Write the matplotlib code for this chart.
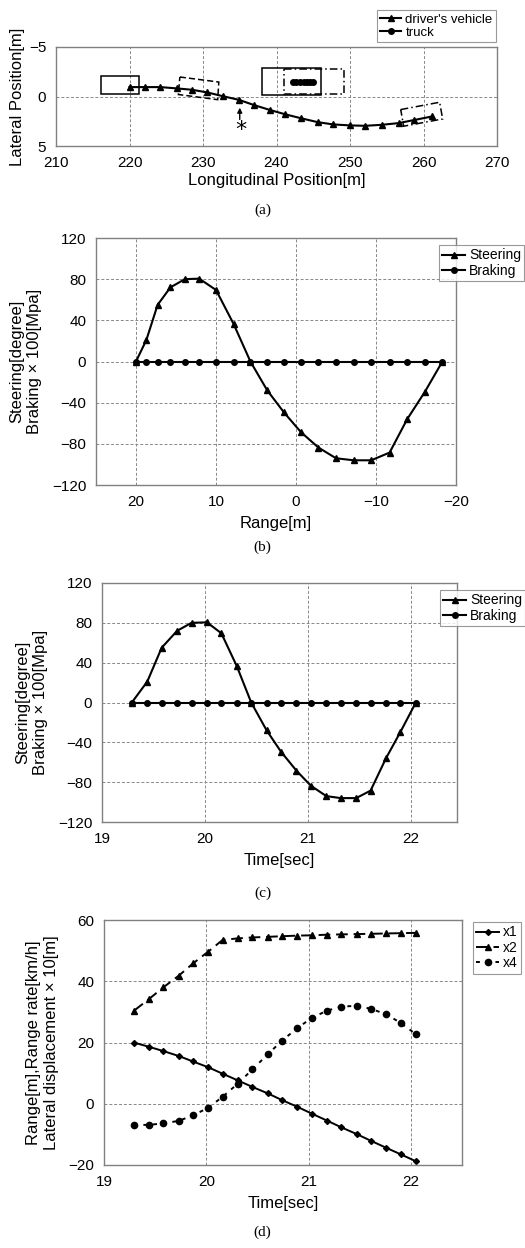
import matplotlib
matplotlib.use("Agg")
import matplotlib.pyplot as plt
from matplotlib.patches import Polygon

plt.rcParams['font.family'] = ['Liberation Sans', 'DejaVu Sans']

# ---------------- data ----------------
# (a) trajectories
veh_x = [220.0, 222.1, 224.2, 226.4, 228.5, 230.6, 232.7, 234.9, 237.0, 239.1,
         241.2, 243.4, 245.6, 247.7, 250.0, 252.1, 254.3, 256.6, 258.7, 261.2]
veh_y = [-0.95, -0.95, -0.95, -0.82, -0.68, -0.41, -0.03, 0.34, 0.88, 1.36,
         1.80, 2.21, 2.59, 2.82, 2.92, 2.96, 2.86, 2.69, 2.38, 2.01]
truck_x = [242.2, 242.7, 243.2, 243.7, 244.2, 244.6, 245.0]
truck_y = [-1.5, -1.5, -1.5, -1.5, -1.5, -1.5, -1.5]
# vehicle outlines (corner points, data units)
box_start = [(216.1, -2.04), (221.3, -2.04), (221.3, -0.24), (216.1, -0.24)]
box_lc1 = [(226.85, -1.97), (232.15, -1.46), (232.0, 0.32), (226.65, -0.2)]
box_truck = [(238.0, -2.89), (246.1, -2.89), (246.1, -0.17), (238.0, -0.17)]
box_truck2 = [(241.0, -2.79), (249.2, -2.79), (249.2, -0.24), (241.0, -0.24)]
box_end = [(256.9, 1.32), (262.2, 0.58), (262.6, 2.27), (257.3, 3.0)]

# (b), (c) steering / braking
range_m = [20.0, 18.7, 17.3, 15.7, 13.9, 12.1, 10.0, 7.8, 5.7, 3.6,
           1.5, -0.6, -2.8, -5.0, -7.2, -9.4, -11.7, -13.9, -16.1, -18.3]
time_s = [19.29, 19.44, 19.58, 19.73, 19.87, 20.02, 20.16, 20.31, 20.45, 20.60,
          20.74, 20.89, 21.03, 21.18, 21.32, 21.47, 21.61, 21.76, 21.90, 22.05]
steering = [0, 21, 55, 72, 80, 80.5, 69.5, 36.5, 0, -28,
            -49.5, -68.5, -83.6, -94, -96, -96, -88.5, -56, -29.6, 0]
braking = [0] * 20

# (d)
x1 = [20.0, 18.6, 17.2, 15.6, 13.8, 11.9, 9.8, 7.6, 5.5, 3.4,
      1.2, -1.0, -3.2, -5.5, -7.7, -9.9, -12.1, -14.4, -16.5, -18.8]
x2 = [30.3, 34.2, 38.0, 41.8, 45.8, 49.7, 53.5, 54.0, 54.3, 54.5,
      54.7, 54.9, 55.0, 55.2, 55.3, 55.4, 55.5, 55.6, 55.7, 55.8]
x4 = [-6.9, -6.9, -6.4, -5.6, -3.8, -1.3, 2.3, 6.6, 11.2, 16.1,
      20.6, 24.7, 28.0, 30.4, 31.7, 32.0, 31.0, 29.2, 26.4, 22.7]

# ---------------- layout helpers ----------------
W, H = 525, 1248
fig = plt.figure(figsize=(W / 100, H / 100), dpi=100)
MINUS = '\u2212'


def add_ax(l, r, t, b):
    return fig.add_axes([l / W, 1 - b / H, (r - l) / W, (b - t) / H])


def style(ax):
    for s in ax.spines.values():
        s.set_color('#808080')
        s.set_linewidth(1.0)
    ax.tick_params(length=0, labelsize=11, pad=7)
    ax.grid(True, color='#888888', linestyle=(0, (3, 2)), linewidth=0.7)
    ax.set_axisbelow(True)


def legend(ax, l, t, fs=10):
    leg = ax.legend(loc='upper left', bbox_to_anchor=(l / W, 1 - t / H),
                    bbox_transform=fig.transFigure, frameon=True, fancybox=False,
                    edgecolor='#808080', fontsize=fs, handlelength=1.6,
                    handletextpad=0.3, borderpad=0.25, labelspacing=0.1,
                    borderaxespad=0)
    leg.get_frame().set_linewidth(0.8)
    return leg


def caption(y, s):
    fig.text(0.5, 1 - y / H, s, ha='center', va='center',
             family='Liberation Serif', fontsize=11)


def mtick(vals):
    return [(MINUS + str(-v)) if v < 0 else str(v) for v in vals]


LBL = 12
SB_LABEL = 'Steering[degree]\nBraking \u00d7 100[Mpa]'

# ---------------- (a) ----------------
ax = add_ax(56, 497, 47, 146)
style(ax)
ax.plot(veh_x, veh_y, '-', color='black', lw=1.5, marker='^', ms=4.5,
        label="driver's vehicle")
ax.plot(truck_x, truck_y, '-', color='black', lw=1.5, marker='o', ms=4,
        label='truck')
ax.add_patch(Polygon(box_start, closed=True, fill=False, ec='black', lw=1.1))
ax.add_patch(Polygon(box_lc1, closed=True, fill=False, ec='black', lw=1.1,
                     ls=(0, (4, 2))))
ax.add_patch(Polygon(box_truck, closed=True, fill=False, ec='black', lw=1.1))
ax.add_patch(Polygon(box_truck2, closed=True, fill=False, ec='black', lw=1.1,
                     ls=(0, (5, 2, 1, 2))))
ax.add_patch(Polygon(box_end, closed=True, fill=False, ec='black', lw=1.1,
                     ls=(0, (5, 2, 1, 2))))
ax.annotate('', xy=(235.0, 0.85), xytext=(235.0, 2.6),
            arrowprops=dict(arrowstyle='-|>', color='black', lw=1.0,
                            mutation_scale=7))
ax.text(235.2, 3.35, '*', ha='center', va='center', fontsize=16,
        family='DejaVu Sans')
ax.set_xlim(210, 270)
ax.set_ylim(5, -5)
ax.set_xticks(range(210, 271, 10))
ax.set_yticks([-5, 0, 5])
ax.set_yticklabels(mtick([-5, 0, 5]))
ax.set_xlabel('Longitudinal Position[m]', fontsize=LBL, labelpad=2)
ax.set_ylabel('Lateral Position[m]', fontsize=LBL, labelpad=3)
legend(ax, 377, 10, fs=9.5)
caption(210, '(a)')

# ---------------- (b) ----------------
ax = add_ax(96, 456, 238, 485)
style(ax)
ax.plot(range_m, steering, '-', color='black', lw=1.5, marker='^', ms=4.5,
        label='Steering')
ax.plot(range_m, braking, '-', color='black', lw=1.5, marker='o', ms=4,
        label='Braking')
ax.set_xlim(25, -20)
ax.set_ylim(-120, 120)
ax.set_xticks([20, 10, 0, -10, -20])
ax.set_xticklabels(mtick([20, 10, 0, -10, -20]))
ax.set_yticks(range(-120, 121, 40))
ax.set_yticklabels(mtick(range(-120, 121, 40)))
ax.set_xlabel('Range[m]', fontsize=LBL, labelpad=5)
ax.set_ylabel(SB_LABEL, fontsize=LBL, labelpad=7, linespacing=1.2)
legend(ax, 439, 245)
caption(547, '(b)')

# ---------------- (c) ----------------
ax = add_ax(102, 457, 583, 822)
style(ax)
ax.plot(time_s, steering, '-', color='black', lw=1.5, marker='^', ms=4.5,
        label='Steering')
ax.plot(time_s, braking, '-', color='black', lw=1.5, marker='o', ms=4,
        label='Braking')
ax.set_xlim(19, 22.45)
ax.set_ylim(-120, 120)
ax.set_xticks([19, 20, 21, 22])
ax.set_yticks(range(-120, 121, 40))
ax.set_yticklabels(mtick(range(-120, 121, 40)))
ax.set_xlabel('Time[sec]', fontsize=LBL, labelpad=5)
ax.set_ylabel(SB_LABEL, fontsize=LBL, labelpad=7, linespacing=1.2)
legend(ax, 440, 590)
caption(893, '(c)')

# ---------------- (d) ----------------
ax = add_ax(104, 462, 920, 1165)
style(ax)
ax.plot(time_s, x1, '-', color='black', lw=1.4, marker='D', ms=3, label='x1')
ax.plot(time_s, x2, color='black', lw=1.4, ls=(0, (6, 3)), marker='^', ms=4.5,
        label='x2')
ax.plot(time_s, x4, color='black', lw=1.4, ls=(0, (2, 3)), marker='o', ms=4.5,
        label='x4')
ax.set_xlim(19, 22.5)
ax.set_ylim(-20, 60)
ax.set_xticks([19, 20, 21, 22])
ax.set_yticks(range(-20, 61, 20))
ax.set_yticklabels(mtick(range(-20, 61, 20)))
ax.set_xlabel('Time[sec]', fontsize=LBL, labelpad=5)
ax.set_ylabel('Range[m],Range rate[km/h]\nLateral displacement \u00d7 10[m]',
              fontsize=LBL, labelpad=7, linespacing=1.2)
legend(ax, 473, 922)
caption(1232, '(d)')

fig.savefig('out.png', dpi=100)
